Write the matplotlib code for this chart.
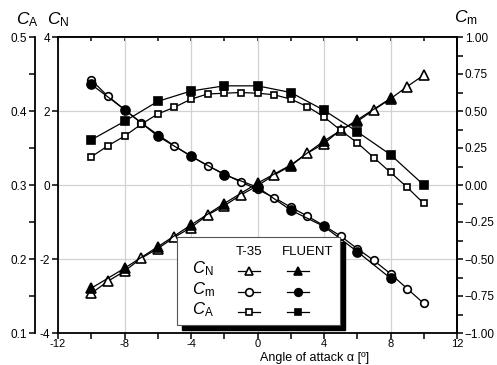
import numpy as np
import matplotlib
matplotlib.use('Agg')
import matplotlib.pyplot as plt
from matplotlib.patches import Rectangle
from matplotlib.lines import Line2D
from matplotlib.ticker import MultipleLocator, FuncFormatter

plt.rcParams['font.family'] = ['Liberation Sans', 'DejaVu Sans']
plt.rcParams['mathtext.fontset'] = 'custom'
plt.rcParams['mathtext.rm'] = 'Liberation Sans'
plt.rcParams['mathtext.it'] = 'Liberation Sans:italic'
plt.rcParams['mathtext.bf'] = 'Liberation Sans:bold'
plt.rcParams['axes.unicode_minus'] = False

# data
alpha_t35 = list(range(-10, 11))
cn_t35 = [-2.93, -2.60, -2.33, -1.98, -1.72, -1.41, -1.15, -0.81, -0.56, -0.27, -0.02,
          0.27, 0.52, 0.86, 1.12, 1.49, 1.72, 2.03, 2.33, 2.66, 2.97]
cm_t35 = [0.71, 0.60, 0.51, 0.42, 0.34, 0.265, 0.195, 0.13, 0.075, 0.02, -0.03,
          -0.085, -0.15, -0.21, -0.275, -0.345, -0.43, -0.51, -0.60, -0.70, -0.80]
ca_t35 = [0.338, 0.353, 0.366, 0.382, 0.396, 0.405, 0.416, 0.423, 0.424, 0.425, 0.424,
          0.422, 0.416, 0.406, 0.392, 0.374, 0.357, 0.337, 0.317, 0.297, 0.275]

alpha_fluent = list(range(-10, 11, 2))
cn_fluent = [-2.79, -2.25, -1.67, -1.08, -0.50, 0.05, 0.54, 1.19, 1.76, 2.34]
cm_fluent = [0.68, 0.51, 0.33, 0.195, 0.07, -0.015, -0.17, -0.28, -0.45, -0.63]
ca_fluent = [0.361, 0.386, 0.413, 0.427, 0.434, 0.434, 0.425, 0.401, 0.372, 0.341, 0.300]

W, H = 497, 365
fig = plt.figure(figsize=(W / 100, H / 100), dpi=100)
ax = fig.add_axes([58 / W, 1 - 333 / H, 399 / W, 296 / H])
ax_m = ax.twinx()
ax_a = ax.twinx()

tick_fs = 8.5
lw_spine = 1.3

# main axis: C_N
ax.set_xlim(-12, 12)
ax.set_ylim(-4, 4)
ax.xaxis.set_major_locator(MultipleLocator(4))
ax.xaxis.set_minor_locator(MultipleLocator(2))
ax.yaxis.set_major_locator(MultipleLocator(2))
ax.grid(True, which='major', color='#d2d2d2', lw=0.9)
ax.tick_params(axis='both', which='both', direction='out', labelsize=tick_fs,
               width=1.1, length=4, pad=1.5)
ax.tick_params(axis='x', top=False, pad=0.5, labelsize=8)
for s in ax.spines.values():
    s.set_linewidth(lw_spine)
sec = ax.secondary_xaxis('top')
sec.xaxis.set_major_locator(MultipleLocator(2))
sec.tick_params(direction='in', length=3, width=1.1, labeltop=False)
sec.spines['top'].set_linewidth(lw_spine)

# right axis: C_m
ax_m.set_ylim(-1, 1)
ax_m.yaxis.set_major_locator(MultipleLocator(0.25))
ax_m.yaxis.set_minor_locator(MultipleLocator(0.125))
ax_m.yaxis.set_major_formatter(FuncFormatter(lambda v, p: f'{v:.2f}'.replace('-', '\u2212')))
ax_m.tick_params(axis='y', which='both', direction='out', labelsize=tick_fs,
                 width=1.1, length=4, pad=1.5)
for k in ['left', 'top', 'bottom']:
    ax_m.spines[k].set_visible(False)
ax_m.spines['right'].set_linewidth(lw_spine)

# outer left axis: C_A
ax_a.set_ylim(0.1, 0.5)
ax_a.spines['left'].set_position(('axes', -23 / 399))
ax_a.yaxis.set_ticks_position('left')
ax_a.yaxis.set_label_position('left')
ax_a.yaxis.set_major_locator(MultipleLocator(0.1))
ax_a.yaxis.set_minor_locator(MultipleLocator(0.05))
ax_a.yaxis.set_major_formatter(FuncFormatter(lambda v, p: f'{v:.1f}'))
ax_a.tick_params(axis='y', which='both', direction='out', labelsize=tick_fs,
                 width=1.1, length=4, pad=1.5)
for k in ['right', 'top', 'bottom']:
    ax_a.spines[k].set_visible(False)
ax_a.spines['left'].set_linewidth(lw_spine)

line_kw = dict(color='black', lw=0.9, mec='black', mew=1.2)
ax.plot(alpha_t35, cn_t35, marker='^', ms=6.5, mfc='white', **line_kw)
ax.plot(alpha_fluent[:len(cn_fluent)], cn_fluent, marker='^', ms=7, mfc='black', **line_kw)
ax_m.plot(alpha_t35, cm_t35, marker='o', ms=5.5, mfc='white', **line_kw)
ax_m.plot(alpha_fluent[:len(cm_fluent)], cm_fluent, marker='o', ms=6.5, mfc='black', **line_kw)
ax_a.plot(alpha_t35, ca_t35, marker='s', ms=5, mfc='white', **line_kw)
ax_a.plot(alpha_fluent, ca_fluent, marker='s', ms=5.5, mfc='black', **line_kw)

# legend box with black shadow
tr = ax_a.transAxes
bx0, bx1 = (177 - 58) / 399, (340 - 58) / 399
by0, by1 = (333 - 325) / 296, (333 - 237) / 296
dx, dy = 5 / 399, 5 / 296
ax_a.add_patch(Rectangle((bx0 + dx, by0 - dy), bx1 - bx0, by1 - by0, transform=tr,
                         facecolor='black', edgecolor='black', zorder=20, clip_on=False))
ax_a.add_patch(Rectangle((bx0, by0), bx1 - bx0, by1 - by0, transform=tr,
                         facecolor='white', edgecolor='#555555', lw=0.8, zorder=21, clip_on=False))

col_t35 = (249 - 58) / 399
col_fl = (298 - 58) / 399
ax_a.text(col_t35, (333 - 252) / 296, 'T-35', transform=tr, ha='center', va='center',
          fontsize=9.5, zorder=22)
ax_a.text((308 - 58) / 399, (333 - 252) / 296, 'FLUENT', transform=tr, ha='center',
          va='center', fontsize=9.5, zorder=22)
rows = [(r'$C_\mathrm{N}$', '^', 271), (r'$C_\mathrm{m}$', 'o', 292), (r'$C_\mathrm{A}$', 's', 312)]
half = 11 / 399
for lab, mk, ypx in rows:
    yy = (333 - ypx) / 296
    ax_a.text((192 - 58) / 399, yy + 2 / 296, lab, transform=tr, ha='left', va='center',
              fontsize=12, zorder=22)
    for cx, fc in [(col_t35, 'white'), (col_fl, 'black')]:
        ax_a.add_line(Line2D([cx - half, cx + half], [yy, yy], transform=tr, color='black',
                             lw=0.9, zorder=22, clip_on=False))
        ax_a.add_line(Line2D([cx], [yy], transform=tr, marker=mk, ms=5.5 if mk != 's' else 5,
                             mfc=fc, mec='black', mew=1.2, zorder=23, clip_on=False))

# axis titles
fig.text(27 / W, 1 - 20 / H, r'$C_\mathrm{A}$', ha='center', va='center', fontsize=12.5)
fig.text(58 / W, 1 - 20 / H, r'$C_\mathrm{N}$', ha='center', va='center', fontsize=12.5)
fig.text(466 / W, 1 - 18 / H, r'$C_\mathrm{m}$', ha='center', va='center', fontsize=12.5)
fig.text(260 / W, 1 - 361 / H, 'Angle of attack α [º]', ha='left',
         va='baseline', fontsize=9)

fig.savefig('out.png', dpi=100)
